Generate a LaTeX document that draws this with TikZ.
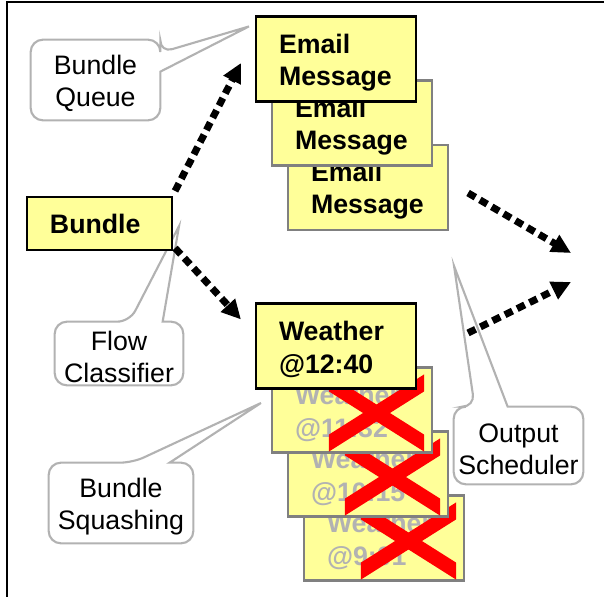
\documentclass[tikz,border=0pt]{standalone}
\usepackage{fontspec}
\setmainfont{Liberation Sans}
\usepackage{tikz}
\usetikzlibrary{arrows.meta,calc,backgrounds}

\definecolor{boxyellow}{RGB}{255,255,153}
\definecolor{boxgray}{RGB}{128,128,128}
\definecolor{oldtext}{RGB}{178,178,178}
\definecolor{notegray}{RGB}{178,178,178}

\newcommand{\msgfont}{\fontsize{15.2}{18.3}\selectfont\bfseries}
\newcommand{\notefont}{\fontsize{15.2}{18}\selectfont}
% taller first line, so two-line texts sit a little lower
\newcommand{\topstrut}{\rule{0pt}{15pt}}

\tikzset{
  box/.style={draw=black, line width=1.2pt, fill=boxyellow, font=\msgfont,
    inner xsep=0.46cm, inner ysep=0pt, align=left},
  msg/.style={box, text width=2.28cm, minimum height=1.7cm, execute at begin node=\topstrut},
  oldmsg/.style={msg, draw=boxgray},
  note/.style={inner sep=0pt, align=center, font=\notefont},
  noteline/.style={draw=notegray, line width=1.2pt, fill=white},
  flow/.style={line width=4pt, dash pattern=on 4.8pt off 3pt,
    -{Triangle[length=11pt,width=10.5pt]}},
}

\begin{document}
\begin{tikzpicture}[x=0.2mm, y=-0.2mm]
    \useasboundingbox (0,0) rectangle (604,597);

    % Frame
    \draw[line width=1.2pt] (7,597) -- (7,2) -- (604,2);

    % Email messages waiting in the queue
    \node[oldmsg] (email3) at (368,187.5) {Email\\Message};
    \node[oldmsg] (email2) at (352,123) {Email\\Message};
    \node[msg] (email1) at (336,59) {Email\\Message};

    % Older weather bundles, squashed by the newest one
    \coordinate (wq) at (336,346);
    \foreach \k/\t in {3/9:01, 2/10:15, 1/11:32} {
        \node[oldmsg, text=oldtext] (old\k) at ($(wq)+(16*\k,64*\k)$) {Weather\\@\t};
        \fill[red] ($(old\k.south west)+(58,-2)$) -- ++(0,-17)
            -- ($(old\k.north east)+(-9,8)$) -- ++(0,17) -- cycle;
        \fill[red] ($(old\k.north west)+(58,8)$) -- ++(0,17)
            -- ($(old\k.south east)+(-9,-2)$) -- ++(0,-17) -- cycle;
    }
    \node[msg] (weather) at (wq) {Weather\\@12:40};

    % Incoming bundle
    \node[box, text width=1.98cm, minimum height=1.06cm] (bundle) at (99.5,223.5) {Bundle};

    % Callouts
    \node[note, minimum width=2.58cm, minimum height=1.6cm] (queue) at (95.5,80)
        {\topstrut Bundle\\Queue};
    \node[note, minimum width=2.56cm, minimum height=1.26cm] (classifier) at (119,353.5)
        {\topstrut Flow\\Classifier};
    \node[note, minimum width=2.88cm, minimum height=1.6cm] (squash) at (121,503)
        {\topstrut Bundle\\Squashing};
    \node[note, minimum width=2.58cm, minimum height=1.54cm] (scheduler) at (518.5,445.5)
        {\topstrut Output\\Scheduler};

    \coordinate (qtip) at ($(email1.north west)+(-6,11)$);
    \coordinate (ctip) at ($(bundle.east)+(6,2.5)$);
    \coordinate (stip) at ($(old1.west)+(-10,-7)$);
    \coordinate (otip) at ($(email3.south east)+(5,35)$);

    \begin{scope}[on background layer]
        \draw[noteline] (queue.west) [rounded corners=7pt] -- (queue.north west) -- (queue.north east)
            -- ($(queue.north east)+(0,13)$) [sharp corners] -- (qtip)
            -- ($(queue.north east)+(0,32)$) [rounded corners=7pt] -- (queue.south east)
            -- (queue.south west) -- cycle;
        \draw[noteline] (classifier.south) [rounded corners=7pt] -- (classifier.south west)
            -- (classifier.north west) -- ($(classifier.north west)+(75,0)$) [sharp corners] -- (ctip)
            -- ($(classifier.north west)+(108,0)$) [rounded corners=7pt] -- (classifier.north east)
            -- (classifier.south east) -- cycle;
        \draw[noteline] (squash.south) [rounded corners=7pt] -- (squash.south west)
            -- (squash.north west) -- ($(squash.north west)+(84,0)$) [sharp corners] -- (stip)
            -- ($(squash.north west)+(121,0)$) [rounded corners=7pt] -- (squash.north east)
            -- (squash.south east) -- cycle;
        \draw[noteline] (scheduler.south) [rounded corners=7pt] -- (scheduler.south west)
            -- (scheduler.north west) -- ($(scheduler.north west)+(21,0)$) [sharp corners] -- (otip)
            -- ($(scheduler.north west)+(54,0)$) [rounded corners=7pt] -- (scheduler.north east)
            -- (scheduler.south east) -- cycle;
    \end{scope}

    % Flows
    \coordinate (out) at (571,268);
    \draw[flow] ($(bundle.north east)+(2,-5)$) -- ($(email1.west)+(-14,4)$);
    \draw[flow] ($(bundle.south east)+(2,-3)$) -- ($(weather.north west)+(-14,17)$);
    \draw[flow] ($(email3.east)+(19,5.5)$) -- ($(out)+(0,-15)$);
    \draw[flow] ($(weather.east)+(51,-13)$) -- ($(out)+(0,14)$);
\end{tikzpicture}
\end{document}
